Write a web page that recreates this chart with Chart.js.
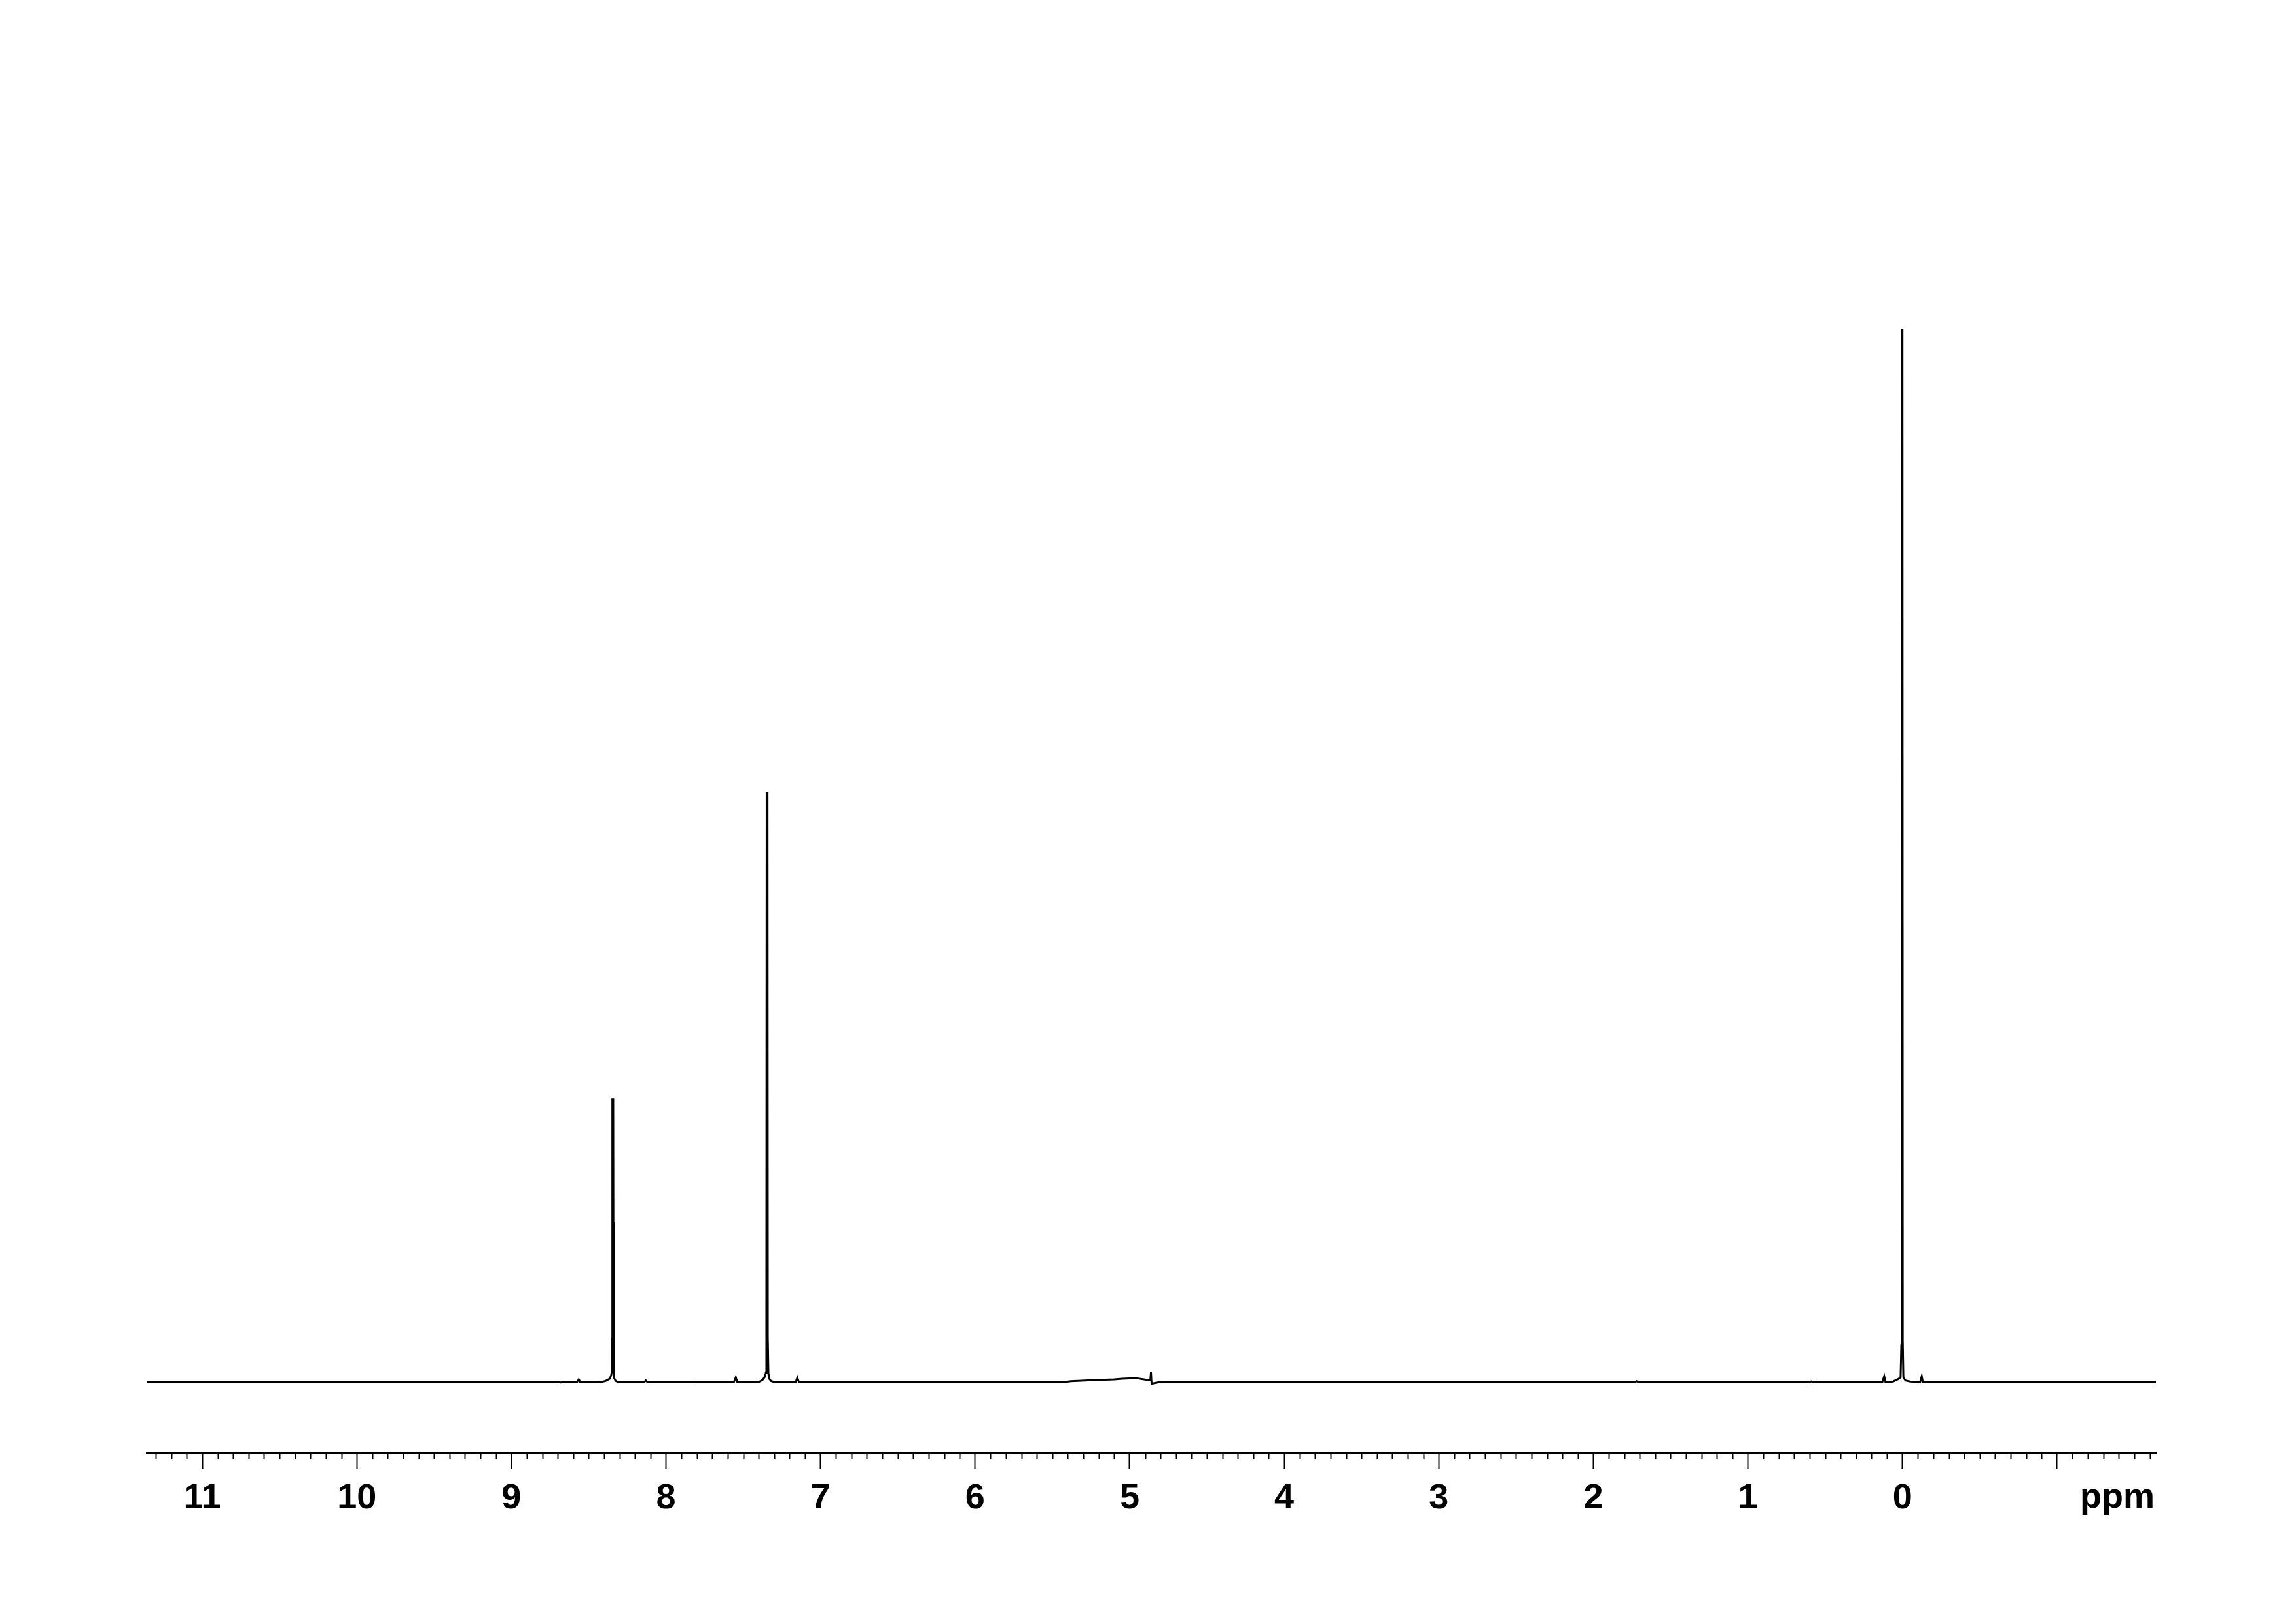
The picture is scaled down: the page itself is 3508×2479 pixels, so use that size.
<!DOCTYPE html>
<html>
<head>
<meta charset="utf-8">
<script src="https://cdn.jsdelivr.net/npm/chart.js@4.4.1/dist/chart.umd.min.js"></script>
<style>
  html, body { margin: 0; padding: 0; background: #fff; }
  #wrap { width: 3508px; height: 2479px; }
</style>
</head>
<body>
<div id="wrap"><canvas id="nmr" width="3508" height="2479"></canvas></div>
<script>
// 1H NMR spectrum, chemical shift (ppm) vs intensity (% of TMS peak)
const shiftPpm = [
  11.36, 8.70, 8.68, 8.66, 8.575, 8.564, 8.555, 8.42, 8.39, 8.365, 8.355, 8.351,
  8.349, 8.347, 8.346, 8.341, 8.340, 8.338, 8.334, 8.325, 8.31,
  8.14, 8.13, 8.12, 8.08, 7.82, 7.80, 7.56, 7.548, 7.538,
  7.40, 7.375, 7.36, 7.353, 7.350, 7.348, 7.343, 7.341, 7.337, 7.333, 7.32, 7.30,
  7.16, 7.150, 7.14,
  5.42, 5.38, 5.22, 5.10, 5.05, 5.00, 4.95, 4.90, 4.866, 4.862, 4.858, 4.826, 4.80,
  1.73, 1.72, 1.71, 0.60, 0.59, 0.58,
  0.13, 0.118, 0.110, 0.06, 0.025, 0.012, 0.007, 0.004, 0.000,
  -0.002, -0.006, -0.02, -0.05, -0.115, -0.125, -0.132, -1.64
];
const intensity = [
  0, 0, -0.05, 0, 0, 0.25, 0, 0, 0.1, 0.3, 0.6, 0.9,
  4.1, 12.2, 26.9, 26.9, 15.2, 1.0, 0.35, 0.1, 0,
  0, 0.15, 0, -0.02, -0.02, 0, 0, 0.45, 0,
  0, 0.2, 0.5, 0.9, 6.9, 56.0, 56.0, 4.2, 0.8, 0.35, 0.1, 0,
  0, 0.42, 0,
  0, 0.08, 0.19, 0.25, 0.31, 0.35, 0.35, 0.23, 0.15, 0.93, -0.17, -0.06, 0,
  0, 0.08, 0, 0, 0.06, 0,
  0, 0.55, 0, 0.05, 0.3, 0.45, 3.5, 100, 100,
  3.9, 0.45, 0.15, 0.05, 0, 0.55, 0, 0
];

const majorTicks = [11, 10, 9, 8, 7, 6, 5, 4, 3, 2, 1, 0, -1];
const tickLabels = ['11', '10', '9', '8', '7', '6', '5', '4', '3', '2', '1', '0', ''];
const axisUnit = 'ppm';

const X_MIN = -1.64, X_MAX = 11.36;
const Y_MIN = -6.72, Y_MAX = 125.14;
const FONT = 'Liberation Sans, Arial, Helvetica, sans-serif';

const points = shiftPpm.map((x, i) => ({ x, y: intensity[i] }));

// minor ticks every 0.1 ppm plus the unit label
const axisExtras = {
  id: 'axisExtras',
  afterDraw(chart) {
    const { ctx, chartArea } = chart;
    const xs = chart.scales.x;
    const y0 = chartArea.bottom;
    ctx.save();
    ctx.strokeStyle = '#000';
    ctx.lineWidth = 2;
    ctx.beginPath();
    for (let k = Math.ceil(X_MIN * 10); k <= Math.floor(X_MAX * 10); k++) {
      if (k % 10 === 0) continue;
      const px = Math.round(xs.getPixelForValue(k / 10)) + 0.5;
      ctx.moveTo(px, y0);
      ctx.lineTo(px, y0 + 10);
    }
    ctx.stroke();
    ctx.fillStyle = '#000';
    ctx.font = 'bold 54px ' + FONT;
    ctx.textAlign = 'right';
    ctx.textBaseline = 'alphabetic';
    ctx.fillText(axisUnit, chartArea.right - 2, 2303);
    ctx.restore();
  }
};

new Chart(document.getElementById('nmr'), {
  type: 'line',
  data: {
    datasets: [{
      data: points,
      borderColor: '#000',
      borderWidth: 3,
      pointRadius: 0,
      tension: 0,
      fill: false
    }]
  },
  options: {
    responsive: false,
    animation: false,
    devicePixelRatio: 1,
    layout: { padding: { left: 224, right: 214, top: 100, bottom: 0 } },
    plugins: { legend: { display: false }, tooltip: { enabled: false } },
    scales: {
      x: {
        type: 'linear',
        reverse: true,
        min: X_MIN,
        max: X_MAX,
        afterBuildTicks: (scale) => { scale.ticks = majorTicks.map(v => ({ value: v })); },
        afterFit: (scale) => { scale.height = 2479 - 2219; },
        border: { display: true, color: '#000', width: 3 },
        grid: { display: true, drawOnChartArea: false, drawTicks: true, tickLength: 25, tickWidth: 2, tickColor: '#000', color: '#000' },
        ticks: {
          autoSkip: false,
          maxRotation: 0,
          padding: 13,
          color: '#000',
          font: { family: FONT, size: 54, weight: 'bold' },
          callback: (value, index) => tickLabels[index]
        }
      },
      y: {
        display: false,
        min: Y_MIN,
        max: Y_MAX
      }
    }
  },
  plugins: [axisExtras]
});
</script>
</body>
</html>
